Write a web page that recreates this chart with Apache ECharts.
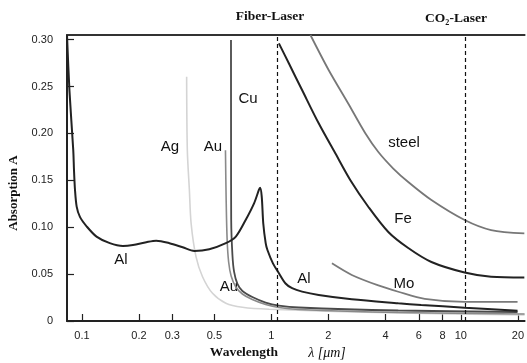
<!DOCTYPE html>
<html lang="en">
<head>
<meta charset="UTF-8">
<title>Absorption vs wavelength</title>
<script src="https://cdn.jsdelivr.net/npm/echarts@6/dist/echarts.min.js"></script>
<style>
  html, body { margin: 0; padding: 0; background: #fff; }
  #chart { width: 527px; height: 363px; }
</style>
</head>
<body>
<div id="chart"></div>
<script>
// wavelength [um] / absorption A
var alData = [[0.0834, 0.305], [0.0859, 0.246], [0.0900, 0.182], [0.0908, 0.161], [0.0919, 0.140],
  [0.0938, 0.122], [0.0976, 0.111], [0.1058, 0.101], [0.1194, 0.090], [0.1403, 0.083],
  [0.1647, 0.080], [0.1859, 0.081], [0.2186, 0.084], [0.2467, 0.0856], [0.2897, 0.083],
  [0.3402, 0.0786], [0.392, 0.0747], [0.47, 0.0765], [0.575, 0.083], [0.649, 0.090],
  [0.7325, 0.108], [0.81, 0.1255], [0.86, 0.140], [0.871, 0.142], [0.889, 0.133],
  [0.906, 0.104], [0.933, 0.083], [0.953, 0.0757], [1.019, 0.0615], [1.096, 0.051],
  [1.188, 0.040], [1.286, 0.035], [1.452, 0.0313], [1.777, 0.0277], [2.657, 0.0231],
  [4.675, 0.0189], [6.174, 0.0171], [10.47, 0.0142], [19.92, 0.011]];
var agData = [[0.357, 0.2605], [0.360, 0.182], [0.369, 0.140], [0.377, 0.104], [0.400, 0.0686],
  [0.433, 0.0472], [0.489, 0.0295], [0.575, 0.0189], [0.703, 0.0146], [0.971, 0.0125],
  [4.675, 0.0085], [21.7, 0.0064]];
var cuData = [[0.612, 0.2997], [0.6125, 0.182], [0.6135, 0.108], [0.6228, 0.0704], [0.6357, 0.0523],
  [0.6617, 0.0395], [0.703, 0.032], [0.793, 0.0256], [0.9326, 0.0197], [1.0955, 0.0165],
  [1.395, 0.0144], [4.675, 0.0112], [19.92, 0.0096]];
var auData = [[0.5722, 0.182], [0.5771, 0.129], [0.5841, 0.0864], [0.5948, 0.0629], [0.6131, 0.048],
  [0.6491, 0.0363], [0.703, 0.0288], [0.793, 0.0229], [0.9326, 0.0176], [1.0955, 0.0144],
  [1.395, 0.0123], [4.675, 0.0091], [21.7, 0.0075]];
var feData = [[1.0955, 0.2961], [1.2359, 0.2748], [1.452, 0.2463], [1.7769, 0.2108], [2.1745, 0.1788],
  [2.607, 0.1504], [3.2527, 0.1216], [4.141, 0.0949], [5.276, 0.0778], [6.992, 0.0629],
  [10.47, 0.0517], [14.44, 0.0472], [21.63, 0.0464]];
var steelData = [[1.607, 0.305], [2.005, 0.2677], [2.553, 0.2314], [3.125, 0.2005], [3.669, 0.1802],
  [4.399, 0.1626], [5.276, 0.1482], [6.992, 0.129], [10.47, 0.1077], [14.44, 0.097], [21.63, 0.0935]];
var moData = [[2.087, 0.0615], [2.657, 0.0491], [3.669, 0.0379], [4.675, 0.0312], [6.454, 0.0235],
  [10.47, 0.0203], [19.92, 0.0203]];

var xTicks = [0.1, 0.2, 0.3, 0.5, 1, 2, 4, 6, 8, 10, 20];
var laserLines = [1.07, 10.6];

var serif = '"Liberation Serif", "Times New Roman", serif';
var sans = '"Liberation Sans", Arial, sans-serif';

function curve(name, data, color, width) {
  return {
    name: name, type: 'line', data: data, symbol: 'none', smooth: 0.3,
    lineStyle: { color: color, width: width }, silent: true, z: 3
  };
}

function tag(text, x, y) {
  return {
    type: 'text', x: x, y: y, silent: true,
    style: { text: text, font: '15px ' + sans, fill: '#111', align: 'center', verticalAlign: 'middle' }
  };
}

var chart = echarts.init(document.getElementById('chart'));
chart.setOption({
  animation: false,
  grid: { left: 67, right: 0, top: 35, bottom: 42 },
  xAxis: [{
    type: 'log', min: 0.0834, max: 21.7, logBase: 10,
    axisLine: { lineStyle: { color: '#222', width: 2 } },
    axisTick: { inside: true, length: 7, customValues: xTicks, lineStyle: { color: '#222', width: 1.2 } },
    axisLabel: { customValues: xTicks, margin: 9, fontSize: 11, color: '#222', fontFamily: sans,
      formatter: function (v) { return String(v); } },
    splitLine: { show: false }, minorTick: { show: false }
  }, {
    type: 'value', position: 'top', min: 0, max: 1,
    axisLine: { show: true, lineStyle: { color: '#333', width: 2 } },
    axisTick: { show: false }, axisLabel: { show: false }, splitLine: { show: false }
  }],
  yAxis: {
    type: 'value', min: 0, max: 0.305, interval: 0.05,
    axisLine: { show: true, lineStyle: { color: '#222', width: 2 } },
    axisTick: { inside: true, length: 7, lineStyle: { color: '#222', width: 1.2 } },
    axisLabel: { margin: 14, fontSize: 11, color: '#222', fontFamily: sans,
      formatter: function (v) { return v === 0 ? '0' : v.toFixed(2); } },
    splitLine: { show: false }
  },
  series: [
    curve('Ag', agData, '#d4d4d4', 1.6),
    curve('Au', auData, '#8a8a8a', 1.6),
    curve('Cu', cuData, '#4a4a4a', 1.8),
    curve('Al', alData, '#222', 2),
    curve('Mo', moData, '#7a7a7a', 1.8),
    curve('Fe', feData, '#222', 2),
    curve('steel', steelData, '#777', 1.8),
    {
      type: 'line', data: [], silent: true,
      markLine: {
        symbol: 'none', silent: true, label: { show: false },
        lineStyle: { color: '#111', width: 1.2, type: [4, 3] },
        data: laserLines.map(function (v) { return { xAxis: v }; })
      }
    }
  ],
  graphic: [
    tag('Al', 121, 260), tag('Al', 304, 279), tag('Ag', 170, 147), tag('Au', 213, 147),
    tag('Cu', 248, 99), tag('Au', 229, 287), tag('steel', 404, 143), tag('Fe', 403, 219),
    tag('Mo', 404, 284),
    { type: 'text', x: 270, y: 17, silent: true,
      style: { text: 'Fiber-Laser', font: 'bold 13.5px ' + serif, fill: '#111', align: 'center', verticalAlign: 'middle' } },
    { type: 'text', x: 456, y: 19, silent: true,
      style: { text: 'CO₂-Laser', font: 'bold 13.5px ' + serif, fill: '#111', align: 'center', verticalAlign: 'middle' } },
    { type: 'text', x: 244, y: 353, silent: true,
      style: { text: 'Wavelength', font: 'bold 13.5px ' + serif, fill: '#111', align: 'center', verticalAlign: 'middle' } },
    { type: 'text', x: 327, y: 353, silent: true,
      style: { text: 'λ [μm]', font: 'italic 14px ' + serif, fill: '#111', align: 'center', verticalAlign: 'middle' } },
    { type: 'text', x: 14, y: 193, rotation: Math.PI / 2, silent: true,
      style: { text: 'Absorption A', font: 'bold 13px ' + serif, fill: '#111', align: 'center', verticalAlign: 'middle' } }
  ]
});
</script>
</body>
</html>
